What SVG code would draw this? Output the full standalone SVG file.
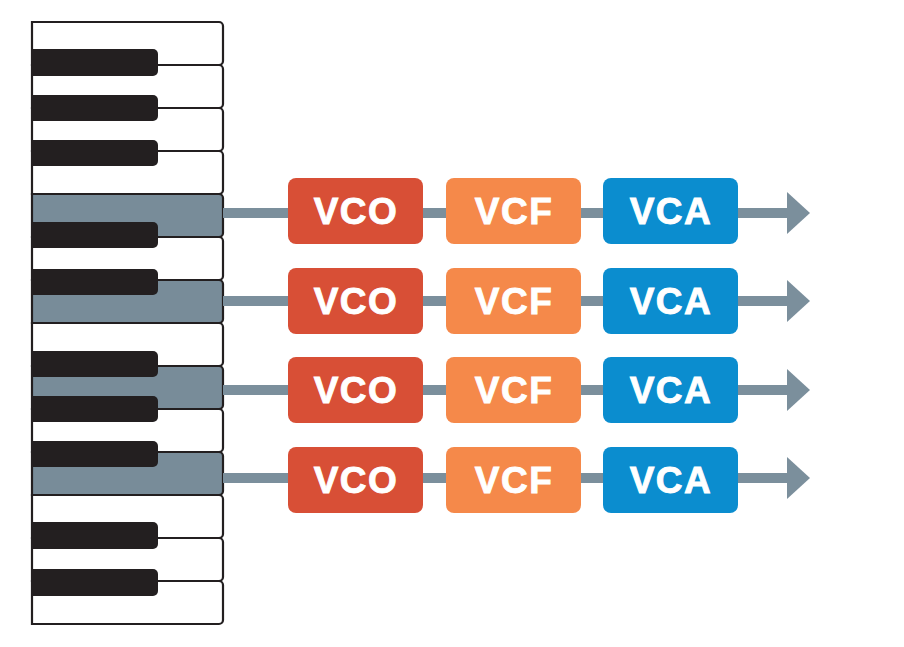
<svg xmlns="http://www.w3.org/2000/svg" width="904" height="647" viewBox="0 0 904 647">
<defs>
<style>
.wk{fill:#ffffff;stroke:#231f20;stroke-width:2.2}
.wk.on{fill:#788c99}
.bk{fill:#231f20}
.bar{stroke:#7b8f9c;stroke-width:10;fill:none}
.vco{fill:#d84f36}
.vcf{fill:#f5894a}
.vca{fill:#0b8dcf}
.lbl{font-family:"Liberation Sans",Arial,sans-serif;font-weight:bold;font-size:37px;fill:#ffffff;stroke:#ffffff;stroke-width:0.9px;text-anchor:middle;letter-spacing:1.5px}
</style>
<marker id="ah" markerUnits="userSpaceOnUse" markerWidth="24" markerHeight="42" refX="0" refY="21" orient="auto" viewBox="0 0 24 42">
<path d="M0,0 L23,21 L0,42 Z" fill="#7b8f9c"/>
</marker>
</defs>
<rect width="904" height="647" fill="#ffffff"/>
<g id="keyboard">
<path class="wk" d="M32,22 H219 A4,4 0 0 1 223,26 V61 A4,4 0 0 1 219,65 H32 Z"/>
<path class="wk" d="M32,65 H219 A4,4 0 0 1 223,69 V104 A4,4 0 0 1 219,108 H32 Z"/>
<path class="wk" d="M32,108 H219 A4,4 0 0 1 223,112 V147 A4,4 0 0 1 219,151 H32 Z"/>
<path class="wk" d="M32,151 H219 A4,4 0 0 1 223,155 V190 A4,4 0 0 1 219,194 H32 Z"/>
<path class="wk on" d="M32,194 H219 A4,4 0 0 1 223,198 V233 A4,4 0 0 1 219,237 H32 Z"/>
<path class="wk" d="M32,237 H219 A4,4 0 0 1 223,241 V276 A4,4 0 0 1 219,280 H32 Z"/>
<path class="wk on" d="M32,280 H219 A4,4 0 0 1 223,284 V319 A4,4 0 0 1 219,323 H32 Z"/>
<path class="wk" d="M32,323 H219 A4,4 0 0 1 223,327 V362 A4,4 0 0 1 219,366 H32 Z"/>
<path class="wk on" d="M32,366 H219 A4,4 0 0 1 223,370 V405 A4,4 0 0 1 219,409 H32 Z"/>
<path class="wk" d="M32,409 H219 A4,4 0 0 1 223,413 V448 A4,4 0 0 1 219,452 H32 Z"/>
<path class="wk on" d="M32,452 H219 A4,4 0 0 1 223,456 V491 A4,4 0 0 1 219,495 H32 Z"/>
<path class="wk" d="M32,495 H219 A4,4 0 0 1 223,499 V534 A4,4 0 0 1 219,538 H32 Z"/>
<path class="wk" d="M32,538 H219 A4,4 0 0 1 223,542 V577 A4,4 0 0 1 219,581 H32 Z"/>
<path class="wk" d="M32,581 H219 A4,4 0 0 1 223,585 V620 A4,4 0 0 1 219,624 H32 Z"/>
<path class="bk" d="M31,49 H153 A5,5 0 0 1 158,54 V71 A5,5 0 0 1 153,76 H31 Z"/>
<path class="bk" d="M31,95 H153 A5,5 0 0 1 158,100 V116 A5,5 0 0 1 153,121 H31 Z"/>
<path class="bk" d="M31,140 H153 A5,5 0 0 1 158,145 V161 A5,5 0 0 1 153,166 H31 Z"/>
<path class="bk" d="M31,222 H153 A5,5 0 0 1 158,227 V243 A5,5 0 0 1 153,248 H31 Z"/>
<path class="bk" d="M31,269 H153 A5,5 0 0 1 158,274 V290 A5,5 0 0 1 153,295 H31 Z"/>
<path class="bk" d="M31,351 H153 A5,5 0 0 1 158,356 V372 A5,5 0 0 1 153,377 H31 Z"/>
<path class="bk" d="M31,396 H153 A5,5 0 0 1 158,401 V417 A5,5 0 0 1 153,422 H31 Z"/>
<path class="bk" d="M31,441 H153 A5,5 0 0 1 158,446 V462 A5,5 0 0 1 153,467 H31 Z"/>
<path class="bk" d="M31,522 H153 A5,5 0 0 1 158,527 V544 A5,5 0 0 1 153,549 H31 Z"/>
<path class="bk" d="M31,569 H153 A5,5 0 0 1 158,574 V591 A5,5 0 0 1 153,596 H31 Z"/>
</g>
<g id="connectors">
<line class="bar" x1="223" y1="213" x2="289" y2="213"/>
<line class="bar" x1="422" y1="213" x2="447" y2="213"/>
<line class="bar" x1="580" y1="213" x2="604" y2="213"/>
<line class="bar" x1="737" y1="213" x2="787" y2="213" marker-end="url(#ah)"/>
<line class="bar" x1="223" y1="301" x2="289" y2="301"/>
<line class="bar" x1="422" y1="301" x2="447" y2="301"/>
<line class="bar" x1="580" y1="301" x2="604" y2="301"/>
<line class="bar" x1="737" y1="301" x2="787" y2="301" marker-end="url(#ah)"/>
<line class="bar" x1="223" y1="390" x2="289" y2="390"/>
<line class="bar" x1="422" y1="390" x2="447" y2="390"/>
<line class="bar" x1="580" y1="390" x2="604" y2="390"/>
<line class="bar" x1="737" y1="390" x2="787" y2="390" marker-end="url(#ah)"/>
<line class="bar" x1="223" y1="478" x2="289" y2="478"/>
<line class="bar" x1="422" y1="478" x2="447" y2="478"/>
<line class="bar" x1="580" y1="478" x2="604" y2="478"/>
<line class="bar" x1="737" y1="478" x2="787" y2="478" marker-end="url(#ah)"/>
</g>
<g id="vco1"><rect class="vco" x="288" y="178" width="135" height="66" rx="8"/><text class="lbl" x="356" y="224">VCO</text></g>
<g id="vcf1"><rect class="vcf" x="446" y="178" width="135" height="66" rx="8"/><text class="lbl" x="514" y="224">VCF</text></g>
<g id="vca1"><rect class="vca" x="603" y="178" width="135" height="66" rx="8"/><text class="lbl" x="671" y="224">VCA</text></g>
<g id="vco2"><rect class="vco" x="288" y="268" width="135" height="66" rx="8"/><text class="lbl" x="356" y="314">VCO</text></g>
<g id="vcf2"><rect class="vcf" x="446" y="268" width="135" height="66" rx="8"/><text class="lbl" x="514" y="314">VCF</text></g>
<g id="vca2"><rect class="vca" x="603" y="268" width="135" height="66" rx="8"/><text class="lbl" x="671" y="314">VCA</text></g>
<g id="vco3"><rect class="vco" x="288" y="357" width="135" height="66" rx="8"/><text class="lbl" x="356" y="403">VCO</text></g>
<g id="vcf3"><rect class="vcf" x="446" y="357" width="135" height="66" rx="8"/><text class="lbl" x="514" y="403">VCF</text></g>
<g id="vca3"><rect class="vca" x="603" y="357" width="135" height="66" rx="8"/><text class="lbl" x="671" y="403">VCA</text></g>
<g id="vco4"><rect class="vco" x="288" y="447" width="135" height="66" rx="8"/><text class="lbl" x="356" y="493">VCO</text></g>
<g id="vcf4"><rect class="vcf" x="446" y="447" width="135" height="66" rx="8"/><text class="lbl" x="514" y="493">VCF</text></g>
<g id="vca4"><rect class="vca" x="603" y="447" width="135" height="66" rx="8"/><text class="lbl" x="671" y="493">VCA</text></g>
</svg>
